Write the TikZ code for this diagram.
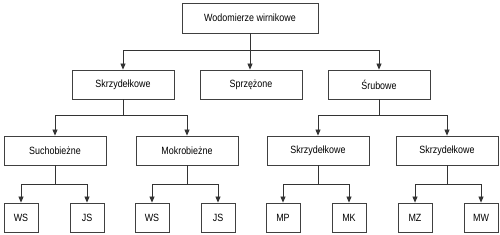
\documentclass[tikz,border=0pt]{standalone}
\usepackage{fontspec}
\setmainfont{Liberation Sans}[FakeStretch=0.85]
\usetikzlibrary{arrows.meta}
\tikzset{
	box/.style = {draw = black!75, line width = 0.8pt, minimum width = 102pt, minimum height = 29pt, inner sep = 0pt, font = \fontsize{10.5}{12}\selectfont},
	leaf/.style = {box, minimum width = 34pt},
	arr/.style = {draw = black!80, line width = 0.8pt, -{Triangle[length = 6pt, width = 5pt]}}
}
\begin{document}
\begin{tikzpicture} [x = 1pt, y = 1pt]
	\useasboundingbox (0,0) rectangle (500,235);
	\node [box, minimum width = 136pt, minimum height = 30pt] (root) at (250,217) {Wodomierze wirnikowe};
	\node [box] (skrz) at (123,150.5) {Skrzydełkowe};
	\node [box] (sprz) at (251,150.5) {Sprzężone};
	\node [box] (srub) at (379,150.5) {Śrubowe};
	\node [box] (such) at (55,84.5) {Suchobieżne};
	\node [box] (mokr) at (187,84.5) {Mokrobieżne};
	\node [box] (skrzA) at (318,84.5) {Skrzydełkowe};
	\node [box] (skrzB) at (447,84.5) {Skrzydełkowe};
	\node [leaf] (ws1) at (21,17.5) {WS};
	\node [leaf] (js1) at (87,17.5) {JS};
	\node [leaf] (ws2) at (152,17.5) {WS};
	\node [leaf] (js2) at (218,17.5) {JS};
	\node [leaf] (mp) at (283,17.5) {MP};
	\node [leaf] (mk) at (349,17.5) {MK};
	\node [leaf] (mz) at (415,17.5) {MZ};
	\node [leaf] (mw) at (481,17.5) {MW};
	\draw [arr] (root.south) -- ++(0,-17) -| (skrz.north);
	\draw [arr] (root.south) -- ++(0,-17) -| (srub.north);
	\draw [arr] (root.south) -- (root.south |- sprz.north);
	\draw [arr] (skrz.south) -- ++(0,-16) -| (such.north);
	\draw [arr] (skrz.south) -- ++(0,-16) -| (mokr.north);
	\draw [arr] (srub.south) -- ++(0,-16) -| (skrzA.north);
	\draw [arr] (srub.south) -- ++(0,-16) -| (skrzB.north);
	\draw [arr] (such.south) -- ++(0,-19) -| (ws1.north);
	\draw [arr] (such.south) -- ++(0,-19) -| (js1.north);
	\draw [arr] (mokr.south) -- ++(0,-19) -| (ws2.north);
	\draw [arr] (mokr.south) -- ++(0,-19) -| (js2.north);
	\draw [arr] (skrzA.south) -- ++(0,-19) -| (mp.north);
	\draw [arr] (skrzA.south) -- ++(0,-19) -| (mk.north);
	\draw [arr] (skrzB.south) -- ++(0,-19) -| (mz.north);
	\draw [arr] (skrzB.south) -- ++(0,-19) -| (mw.north);
\end{tikzpicture}
\end{document}
